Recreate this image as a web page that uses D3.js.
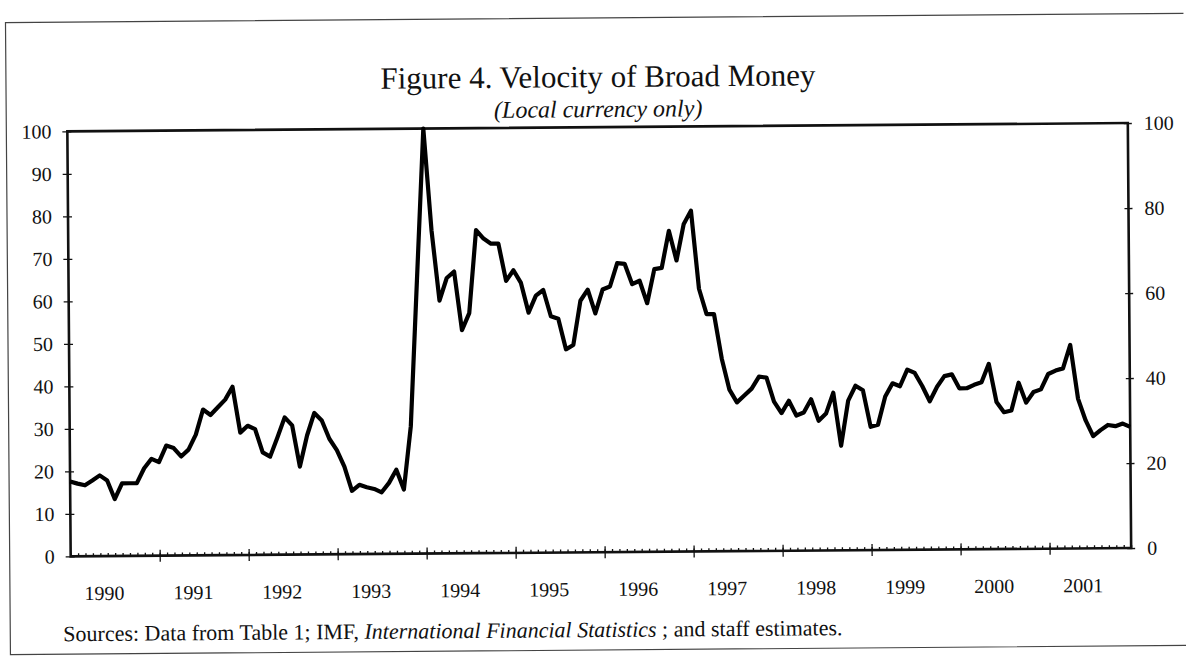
<!DOCTYPE html>
<html>
<head>
<meta charset="utf-8">
<script src="https://cdn.jsdelivr.net/npm/d3@7"></script>
<style>
  body { margin: 0; background: #fff; }
  svg { display: block; }
  text { font-family: "Liberation Serif", "Times New Roman", serif; fill: #111; }
  .axis path.domain { display: none; }
  .axis line { stroke: #111; stroke-width: 1.3; }
</style>
</head>
<body>
<svg id="chart" width="1186" height="660"></svg>
<script>
// monthly velocity, Jan 1990 .. Dec 2001
const years = [1990, 1991, 1992, 1993, 1994, 1995, 1996, 1997, 1998, 1999, 2000, 2001];
const velocity = [
    17.6, 17.1, 16.7, 17.8, 19.0, 17.8, 13.4, 17.1, 17.1, 17.1, 20.6, 22.8,
    22.0, 25.9, 25.3, 23.3, 24.9, 28.4, 34.3, 33.0, 34.8, 36.6, 39.6, 28.8,
    30.4, 29.6, 24.1, 23.1, 27.6, 32.3, 30.4, 20.7, 28.0, 33.3, 31.5, 27.2,
    24.5, 20.6, 14.9, 16.3, 15.7, 15.3, 14.5, 16.7, 19.8, 15.1, 30.0, 65.0,
    100, 76.0, 59.5, 64.8, 66.3, 52.5, 56.5, 76.0, 74.0, 72.8, 72.8, 64.0,
    66.5, 63.5, 56.5, 60.5, 61.8, 55.6, 55.0, 47.8, 48.8, 59.2, 61.8, 56.2,
    61.8, 62.5, 68.0, 67.8, 63.0, 63.8, 58.5, 66.5, 66.8, 75.5, 68.5, 77.0,
    80.2, 61.8, 55.8, 55.8, 45.3, 38.0, 35.0, 36.6, 38.2, 41.0, 40.8, 35.1,
    32.4, 35.3, 31.8, 32.5, 35.6, 30.5, 32.2, 37.1, 24.6, 35.2, 38.7, 37.6,
    29.0, 29.5, 36.1, 39.2, 38.5, 42.4, 41.6, 38.5, 34.9, 38.3, 40.8, 41.2,
    37.9, 37.9, 38.7, 39.3, 43.6, 34.6, 32.2, 32.6, 39.1, 34.4, 36.9, 37.5,
    41.1, 41.9, 42.4, 47.9, 35.2, 30.1, 26.4, 27.8, 29.0, 28.7, 29.3, 28.5
];
const leftTicks = [0, 10, 20, 30, 40, 50, 60, 70, 80, 90, 100];
const rightTicks = [0, 20, 40, 60, 80, 100];

const plot = {left: 69, right: 1129.5, top: 127.2, bottom: 552.2};

const svg = d3.select('#chart');
// the scanned page sits slightly askew
const page = svg.append('g').attr('transform', 'rotate(-0.45, 600, 340)');

const x = d3.scaleLinear().domain([0, velocity.length - 1]).range([plot.left, plot.right]);
const y = d3.scaleLinear().domain([0, 100]).range([plot.bottom, plot.top]);

// outer page frame
page.append('path')
    .attr('d', 'M1186,18 H8 V650 H1186')
    .attr('fill', 'none')
    .attr('stroke', '#444')
    .attr('stroke-width', 1.2);

// titles
page.append('text')
    .attr('x', 600).attr('y', 87)
    .attr('text-anchor', 'middle')
    .attr('font-size', 31)
    .text('Figure 4. Velocity of Broad Money');
page.append('text')
    .attr('x', 600).attr('y', 117)
    .attr('text-anchor', 'middle')
    .attr('font-size', 24)
    .attr('font-style', 'italic')
    .text('(Local currency only)');

// left axis, ticks crossing the line
page.append('g')
    .attr('class', 'axis')
    .attr('transform', `translate(${plot.left},0)`)
    .call(d3.axisLeft(y).tickValues(leftTicks).tickSize(5).tickPadding(11))
    .call(g => g.selectAll('text').attr('font-size', 20).attr('fill', '#111'));
page.append('g')
    .attr('class', 'axis')
    .attr('transform', `translate(${plot.left},0)`)
    .call(d3.axisRight(y).tickValues(leftTicks).tickSize(4).tickFormat(''));

// right axis
page.append('g')
    .attr('class', 'axis')
    .attr('transform', `translate(${plot.right},0)`)
    .call(d3.axisRight(y).tickValues(rightTicks).tickSize(4).tickPadding(12))
    .call(g => g.selectAll('text').attr('font-size', 20).attr('fill', '#111'));
page.append('g')
    .attr('class', 'axis')
    .attr('transform', `translate(${plot.right},0)`)
    .call(d3.axisLeft(y).tickValues(rightTicks).tickSize(4).tickFormat(''));

// bottom axis: monthly minor ticks, year boundaries as major ticks
const monthIdx = d3.range(velocity.length);
const yearStarts = years.slice(1).map((yr, i) => (i + 1) * 12);
page.append('g')
    .attr('class', 'axis')
    .attr('transform', `translate(0,${plot.bottom})`)
    .call(d3.axisTop(x).tickValues(monthIdx).tickSize(3).tickFormat(''));
page.append('g')
    .attr('class', 'axis')
    .attr('transform', `translate(0,${plot.bottom})`)
    .call(d3.axisBottom(x).tickValues(yearStarts).tickSize(6).tickFormat(''));
page.append('g')
    .attr('class', 'axis')
    .attr('transform', `translate(0,${plot.bottom})`)
    .call(d3.axisTop(x).tickValues(yearStarts).tickSize(6).tickFormat(''));

page.append('g')
    .selectAll('text')
    .data(years)
    .join('text')
    .attr('x', (d, i) => x(i * 12 + 4.5))
    .attr('y', 596)
    .attr('text-anchor', 'middle')
    .attr('font-size', 20)
    .text(d => d);

// plot frame
page.append('rect')
    .attr('x', plot.left).attr('y', plot.top)
    .attr('width', plot.right - plot.left)
    .attr('height', plot.bottom - plot.top)
    .attr('fill', 'none')
    .attr('stroke', '#111')
    .attr('stroke-width', 2.6);

// series
const line = d3.line().x((d, i) => x(i)).y(d => y(d));
page.append('path')
    .datum(velocity)
    .attr('d', line)
    .attr('fill', 'none')
    .attr('stroke', '#000')
    .attr('stroke-width', 4.2)
    .attr('stroke-linejoin', 'round');

// source note
const note = page.append('text')
    .attr('x', 61).attr('y', 637)
    .attr('font-size', 22);
note.append('tspan').text('Sources: Data from Table 1; IMF, ');
note.append('tspan').attr('font-style', 'italic').text('International Financial Statistics');
note.append('tspan').text(' ; and staff estimates.');
</script>
</body>
</html>
